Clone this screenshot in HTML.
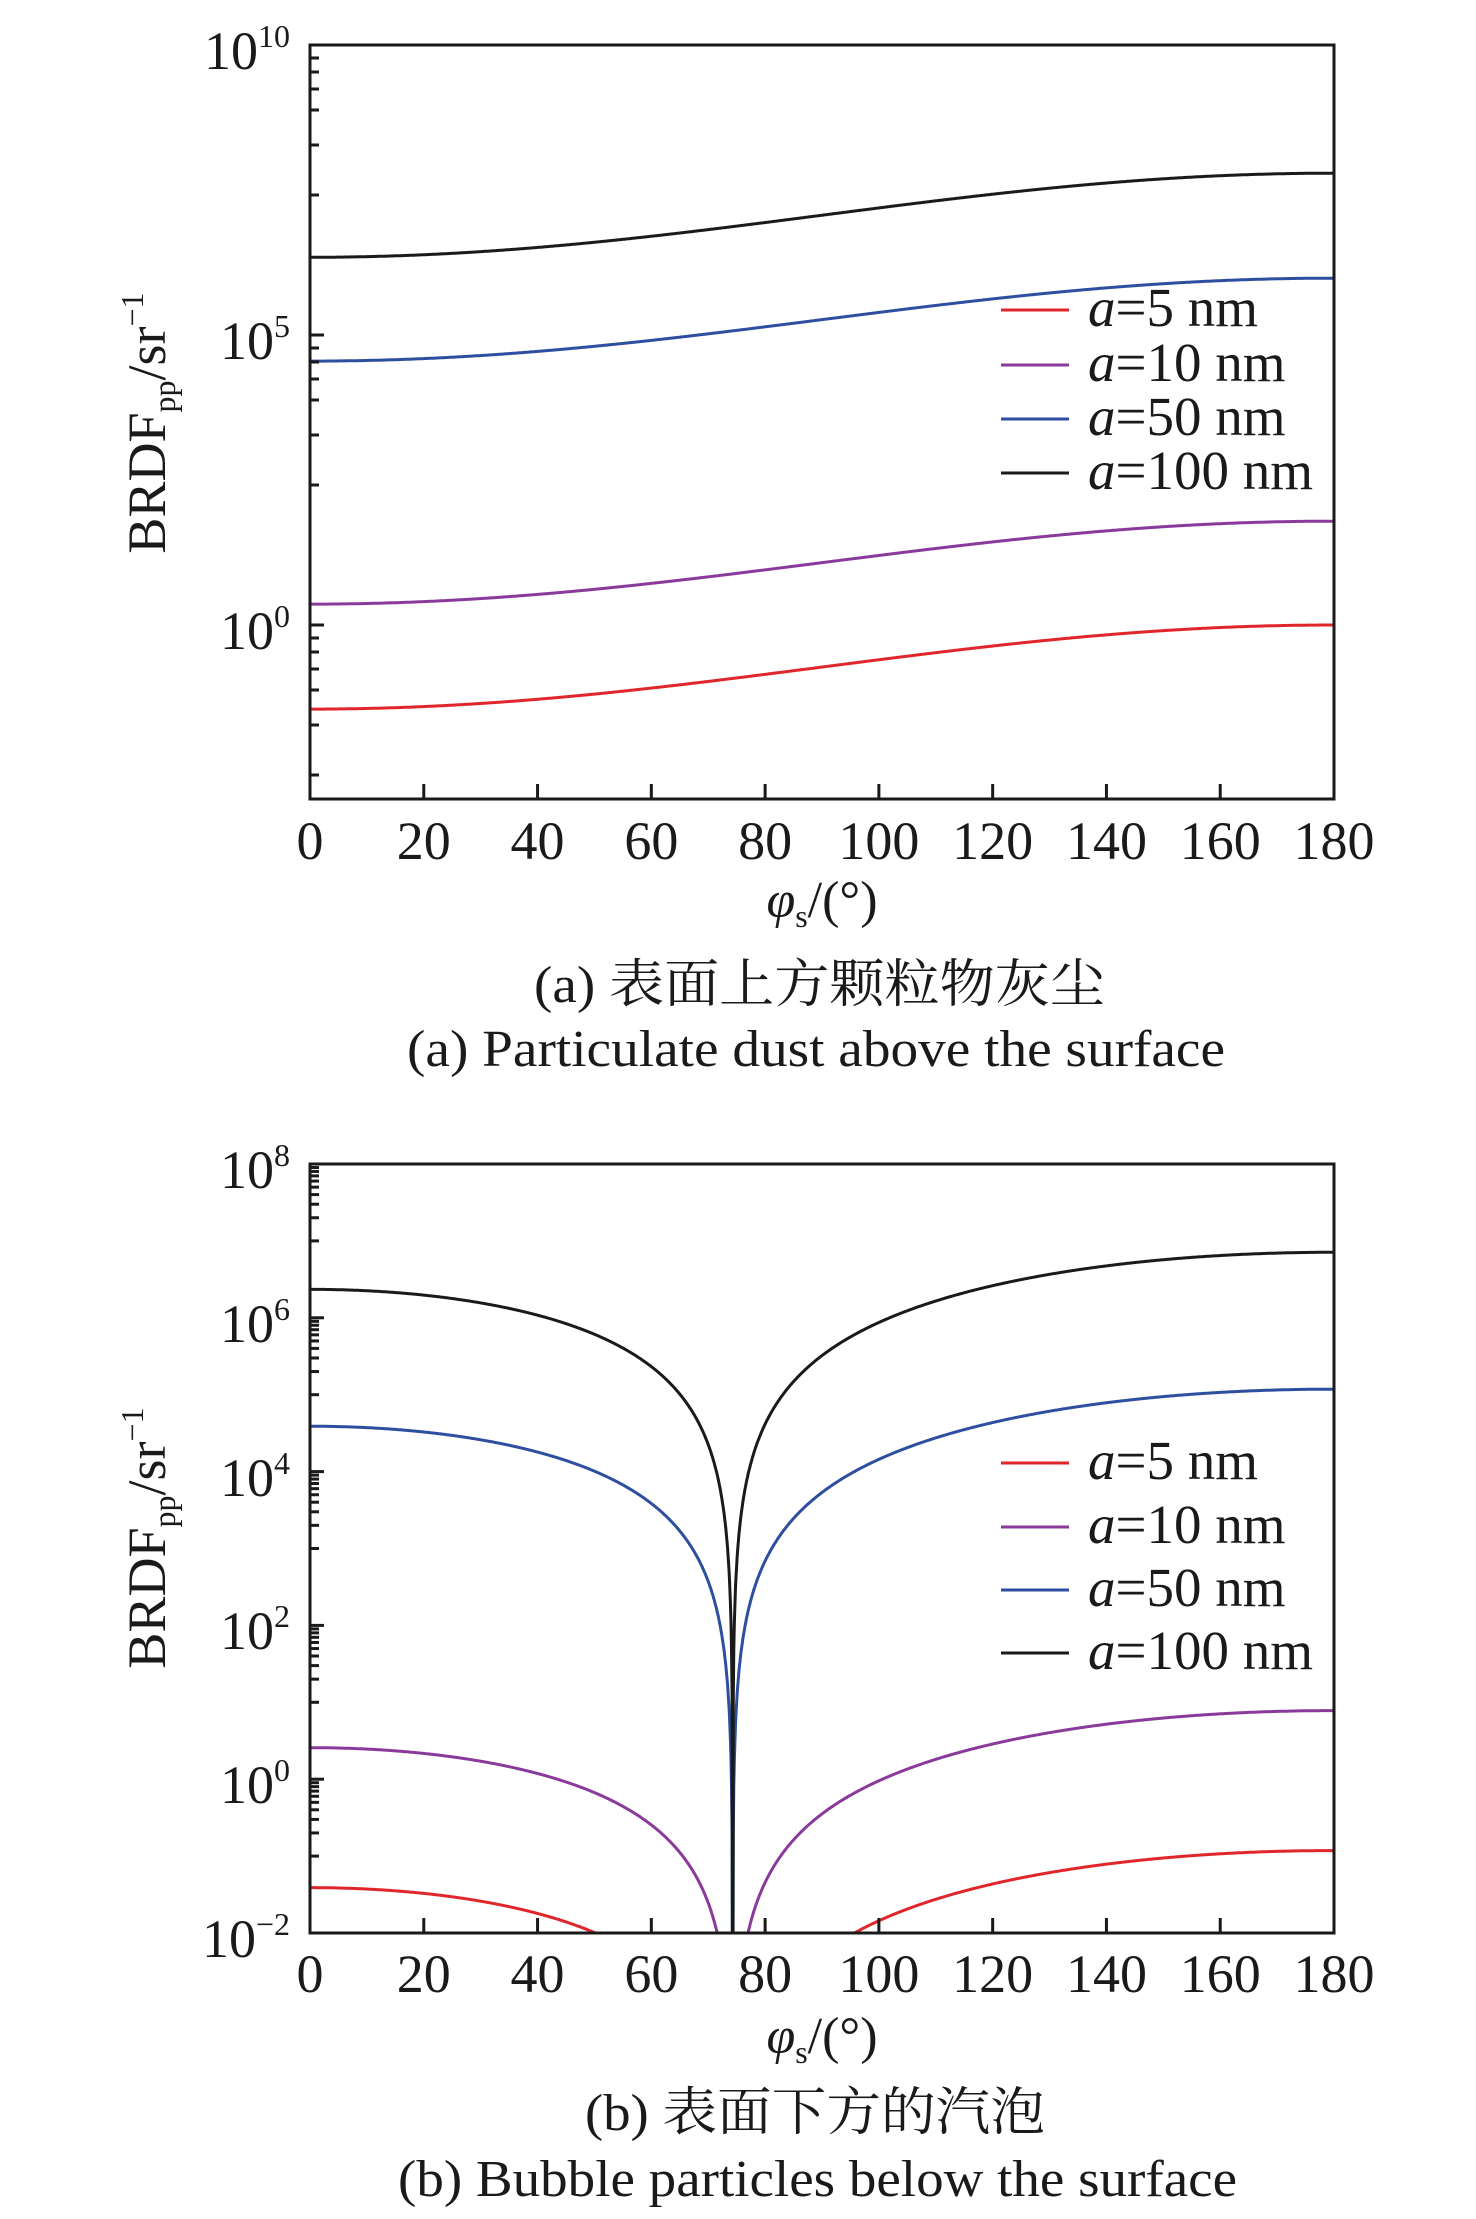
<!DOCTYPE html>
<html><head><meta charset="utf-8"><style>
html,body{margin:0;padding:0;background:#fff}
svg{display:block}
text{font-family:"Liberation Serif","Noto Serif CJK SC",serif;fill:#1a1a1a}
</style></head><body>
<svg id="s" width="1476" height="2219" viewBox="0 0 1476 2219" xmlns="http://www.w3.org/2000/svg">
<g id="g"></g>
<!-- Panel a labels -->
<text x="290" y="69" font-size="54" text-anchor="end">10<tspan font-size="32" dy="-22">10</tspan></text>
<text x="290" y="359" font-size="54" text-anchor="end">10<tspan font-size="32" dy="-22">5</tspan></text>
<text x="290" y="649" font-size="54" text-anchor="end">10<tspan font-size="32" dy="-22">0</tspan></text>
<text transform="translate(165,423) rotate(-90)" text-anchor="middle" font-size="54">BRDF<tspan font-size="32" dy="10">pp</tspan><tspan dy="-10">/sr</tspan><tspan font-size="32" dy="-22">−1</tspan></text>
<text x="822" y="917" text-anchor="middle" font-size="52"><tspan font-style="italic">φ</tspan><tspan font-size="32" dy="10">s</tspan><tspan dy="-10">/(°)</tspan></text>
<text x="534" y="1002" font-size="52" textLength="571" lengthAdjust="spacingAndGlyphs">(a) 表面上方颗粒物灰尘</text>
<text x="407" y="1066" font-size="52" textLength="818" lengthAdjust="spacingAndGlyphs">(a) Particulate dust above the surface</text>
<!-- Panel b labels -->
<text x="290" y="1188" font-size="54" text-anchor="end">10<tspan font-size="32" dy="-22">8</tspan></text>
<text x="290" y="1342" font-size="54" text-anchor="end">10<tspan font-size="32" dy="-22">6</tspan></text>
<text x="290" y="1496" font-size="54" text-anchor="end">10<tspan font-size="32" dy="-22">4</tspan></text>
<text x="290" y="1649" font-size="54" text-anchor="end">10<tspan font-size="32" dy="-22">2</tspan></text>
<text x="290" y="1803" font-size="54" text-anchor="end">10<tspan font-size="32" dy="-22">0</tspan></text>
<text x="290" y="1957" font-size="54" text-anchor="end">10<tspan font-size="32" dy="-22">−2</tspan></text>
<text transform="translate(165,1538) rotate(-90)" text-anchor="middle" font-size="54">BRDF<tspan font-size="32" dy="10">pp</tspan><tspan dy="-10">/sr</tspan><tspan font-size="32" dy="-22">−1</tspan></text>
<text x="822" y="2053" text-anchor="middle" font-size="52"><tspan font-style="italic">φ</tspan><tspan font-size="32" dy="10">s</tspan><tspan dy="-10">/(°)</tspan></text>
<text x="585" y="2130" font-size="52" textLength="460" lengthAdjust="spacingAndGlyphs">(b) 表面下方的汽泡</text>
<text x="398" y="2196" font-size="52" textLength="839" lengthAdjust="spacingAndGlyphs">(b) Bubble particles below the surface</text>
</svg>
<script>
var g=document.getElementById('g'),NS='http://www.w3.org/2000/svg';
function el(t,a,txt){var e=document.createElementNS(NS,t);for(var k in a)e.setAttribute(k,a[k]);if(txt!=null)e.textContent=txt;g.appendChild(e);return e;}
var L=310,R=1334,cols=['#e0262b','#8a3a9a','#2e4ea0','#1a1a1a'],names=['5','10','50','100'];
function X(p){return L+(R-L)*p/180;}
function panel(T,B,lo,hi,series,fn,ticksMinor,majors,legY,xlabY){
 var dp=(B-T)/(hi-lo);function Y(v){return B-(v-lo)*dp;}
 var cid='c'+T;var cp=el('clipPath',{id:cid});var r=document.createElementNS(NS,'rect');
 r.setAttribute('x',L);r.setAttribute('y',T);r.setAttribute('width',R-L);r.setAttribute('height',B-T);cp.appendChild(r);
 series.forEach(function(s,i){var d='';for(var k=0;k<=1800;k++){var p=k/10;var v=fn(s,p);if(v<lo-3)v=lo-3;d+=(k?'L':'M')+X(p).toFixed(1)+' '+Y(v).toFixed(1);}
  el('path',{d:d,fill:'none',stroke:cols[i],'stroke-width':3,'clip-path':'url(#'+cid+')'});});
 ticksMinor.forEach(function(y){if(y>T+2&&y<B-2)el('line',{x1:L,x2:L+9,y1:y,y2:y,stroke:'#1a1a1a','stroke-width':3});});
 majors.forEach(function(y){el('line',{x1:L,x2:L+14,y1:y,y2:y,stroke:'#1a1a1a','stroke-width':3});});
 for(var p=20;p<180;p+=20)el('line',{x1:X(p),x2:X(p),y1:B,y2:B-15,stroke:'#1a1a1a','stroke-width':3});
 for(var p=0;p<=180;p+=20)el('text',{x:X(p),y:xlabY,'text-anchor':'middle','font-size':54},String(p));
 el('rect',{x:L,y:T,width:R-L,height:B-T,fill:'none',stroke:'#1a1a1a','stroke-width':3});
 legY.forEach(function(y,i){el('line',{x1:1001,x2:1069,y1:y,y2:y,stroke:cols[i],'stroke-width':3});
  var t=el('text',{x:1088,y:y+16,'font-size':55});var a=document.createElementNS(NS,'tspan');a.setAttribute('font-style','italic');a.textContent='a';t.appendChild(a);t.appendChild(document.createTextNode('='+names[i]+' nm'));});
 return Y;
}
// panel a
var sa=[[-1.45,0],[0.36,1.79],[4.55,5.98],[6.34,7.79]];
var minA=[];[0,290,580].forEach(function(o){[13,27,44,65,100,150].forEach(function(d){minA.push(45+o+d);});});
panel(45,799,-3,10,sa,function(s,p){var w=(1-Math.cos(p*Math.PI/180))/2;return s[0]+(s[1]-s[0])*w;},minA,[335,625],[310,365,419,473],859);
// panel b
var c=Math.cos(74.3*Math.PI/180);
var sb=[-1.41,0.41,4.59,6.37];
var Tb=1164,Bb=1933,dpb=(Bb-Tb)/10,minB=[];
for(var k=-2;k<8;k+=2){for(var m=1;m<=9;m++){minB.push(Bb-(k+1+Math.log10(m)+2)*dpb);}}
panel(Tb,Bb,-2,8,sb,function(s,p){var r=Math.abs(Math.cos(p*Math.PI/180)-c)/(1-c);return s+2*Math.log10(Math.max(r,1e-6));},minB,[1164+2*dpb,1164+4*dpb,1164+6*dpb,1164+8*dpb],[1463,1527,1590,1653],1992);
</script>
</body></html>
